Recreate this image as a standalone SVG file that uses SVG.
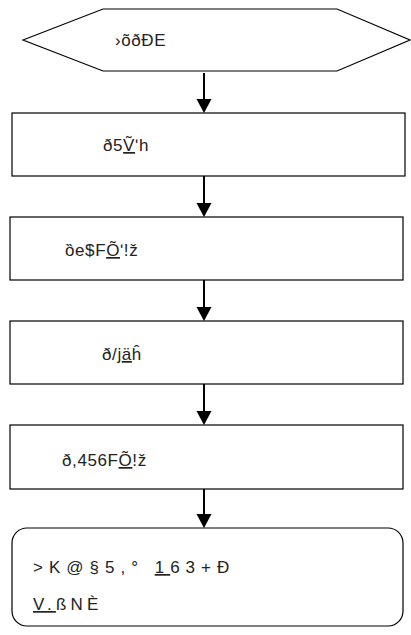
<svg xmlns="http://www.w3.org/2000/svg" width="411" height="635" viewBox="0 0 411 635">
<style>
.s{fill:#fff;stroke:#000;stroke-width:1.2}
.t{font-family:"Liberation Sans",Arial,sans-serif;font-size:17px;fill:#222;letter-spacing:0.6px}
.w{letter-spacing:4.2px}
.w2{letter-spacing:6px}
.c{stroke:#000;stroke-width:2;fill:none}
</style>
<rect width="411" height="635" fill="#fff"/>
<g id="connectors">
<path class="c" d="M204,73V100"/><path d="M196.5,99L211.5,99L204,113z"/>
<path class="c" d="M204,176V203"/><path d="M196.5,203L211.5,203L204,217z"/>
<path class="c" d="M204,280V307"/><path d="M196.5,307L211.5,307L204,321z"/>
<path class="c" d="M204,384V411"/><path d="M196.5,411L211.5,411L204,425z"/>
<path class="c" d="M204,489V514"/><path d="M196.5,514L211.5,514L204,528z"/>
</g>
<g id="n0">
<polygon class="s" points="23,40 103,9 337,9 410,40 337,71 103,71"/>
<text class="t" x="115" y="46">›õðÐE</text>
</g>
<g id="n1">
<rect class="s" x="12" y="113" width="393" height="63"/>
<text class="t" x="103" y="151">ð5<tspan text-decoration="underline">Ṽ</tspan>ʹh</text>
</g>
<g id="n2">
<rect class="s" x="10" y="217" width="393" height="63"/>
<text class="t" x="65" y="256">ȍe$F<tspan text-decoration="underline">Õ</tspan>ʹ!ž</text>
</g>
<g id="n3">
<rect class="s" x="10" y="321" width="393" height="63"/>
<text class="t" x="102" y="360">ð/j<tspan text-decoration="underline">ä</tspan>ĥ</text>
</g>
<g id="n4">
<rect class="s" x="10" y="425" width="393" height="64"/>
<text class="t" x="62" y="466">ð,456F<tspan text-decoration="underline">Õ</tspan>!ž</text>
</g>
<g id="n5">
<rect class="s" x="12" y="528" width="391" height="98" rx="15"/>
<text class="t w2" x="33" y="573">&gt;K@§5,° <tspan text-decoration="underline"> 1</tspan>63+Ð</text>
<text class="t w" x="33" y="610"><tspan text-decoration="underline">V.</tspan>ßNÈ</text>
</g>
</svg>
